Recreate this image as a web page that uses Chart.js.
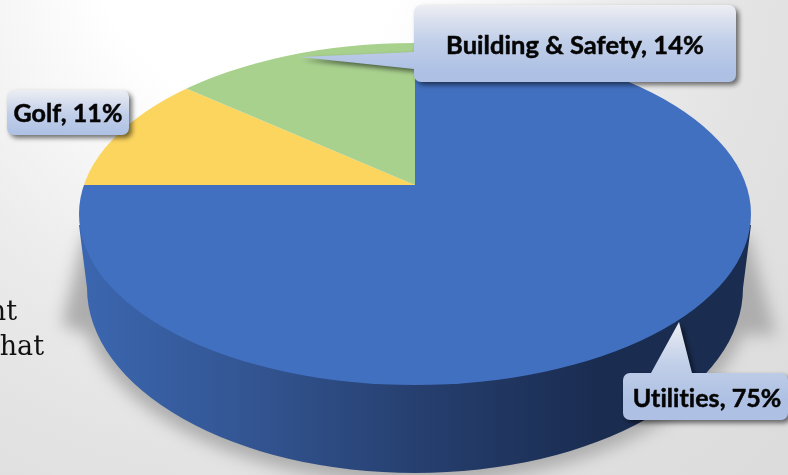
<!DOCTYPE html>
<html>
<head>
<meta charset="utf-8">
<style>html,body{margin:0;padding:0;background:#fff}canvas{display:block}#w{width:788px;height:475px}</style>
<script src="https://cdn.jsdelivr.net/npm/chart.js@4/dist/chart.umd.min.js"></script>
</head>
<body>
<div id="w"><canvas id="c" width="788" height="475"></canvas></div>
<script>
const categories = ['Utilities', 'Golf', 'Building & Safety'];
const shares = [75, 11, 14];
const sliceColors = ['#4270C0', '#FCD55F', '#A9D18E'];
const bgTextLines = ['nt', 'hat'];

const topFace = {cx: 415, cy: 214, rx: 336, ry: 171};
const baseFace = {cx: 415, cy: 288, rx: 328, ry: 185};
const apex = {x: 415, y: 185, squash: 0.51};

function ellipsePath(ctx, e) {
  ctx.beginPath();
  ctx.ellipse(e.cx, e.cy, e.rx, e.ry, 0, 0, Math.PI * 2);
}
function wallPath(ctx) {
  ctx.beginPath();
  ctx.moveTo(79, 225);
  ctx.lineTo(baseFace.cx - baseFace.rx, baseFace.cy);
  ctx.ellipse(baseFace.cx, baseFace.cy, baseFace.rx, baseFace.ry, 0, Math.PI, 0, true);
  ctx.lineTo(751, 225);
  ctx.closePath();
}
function roundedCallout(ctx, b, pointer) {
  const r = 7, {x, y, w, h} = b;
  ctx.beginPath();
  ctx.moveTo(x + r, y);
  if (pointer && pointer.side === 'top') {
    ctx.lineTo(pointer.a, y); ctx.lineTo(pointer.tx, pointer.ty); ctx.lineTo(pointer.b, y);
  }
  ctx.arcTo(x + w, y, x + w, y + h, r);
  ctx.arcTo(x + w, y + h, x, y + h, r);
  ctx.arcTo(x, y + h, x, y, r);
  if (pointer && pointer.side === 'left') {
    ctx.lineTo(x, pointer.b); ctx.lineTo(pointer.tx, pointer.ty); ctx.lineTo(x, pointer.a);
  }
  ctx.arcTo(x, y, x + w, y, r);
  ctx.closePath();
}

const scenePlugin = {
  id: 'scene',
  beforeDraw(chart) {
    const ctx = chart.ctx;
    ctx.save();
    const bg = ctx.createRadialGradient(250, -50, 0, 250, -50, 720);
    bg.addColorStop(0, '#ffffff');
    bg.addColorStop(0.21, '#ffffff');
    bg.addColorStop(0.53, '#ebebeb');
    bg.addColorStop(0.74, '#e2e2e2');
    bg.addColorStop(1, '#dcdcdc');
    ctx.fillStyle = bg;
    ctx.fillRect(0, 0, 788, 475);

    ctx.fillStyle = '#111111';
    ctx.font = '27px "DejaVu Serif"';
    ctx.textAlign = 'right';
    ctx.textBaseline = 'alphabetic';
    ctx.fillText(bgTextLines[0], 17, 320);
    ctx.fillText(bgTextLines[1], 44, 355);

    // soft cast shadow under the drum, with its two side wedges
    ctx.save();
    ctx.filter = 'blur(8px)';
    ctx.fillStyle = '#adadad';
    ctx.beginPath();
    ctx.moveTo(84, 235);
    ctx.lineTo(62, 325);
    ctx.ellipse(415, 292, 336, 192, 0, Math.PI * 0.93, Math.PI * 0.07, true);
    ctx.lineTo(776, 335);
    ctx.lineTo(748, 235);
    ctx.closePath();
    ctx.fill();
    ctx.restore();

    // side wall
    const wall = ctx.createLinearGradient(85, 0, 600, 0);
    wall.addColorStop(0, '#3B66AF');
    wall.addColorStop(0.32, '#335592');
    wall.addColorStop(0.65, '#263F6F');
    wall.addColorStop(1, '#1A2C50');
    ctx.fillStyle = wall;
    wallPath(ctx);
    ctx.fill();
    ctx.restore();
  },
  beforeDatasetsDraw(chart) {
    const ctx = chart.ctx;
    const meta = chart.getDatasetMeta(0);
    const first = meta.data[0];
    ctx.save();
    ellipsePath(ctx, topFace);
    ctx.clip();
    ctx.translate(apex.x, apex.y);
    ctx.scale(1, apex.squash);
    ctx.translate(-first.x, -first.y);
    meta.controller.draw();
    ctx.restore();
    return false;
  },
  afterDraw(chart) {
    const ctx = chart.ctx;
    const text = i => categories[i] + ', ' + shares[i] + '%';
    const callouts = [
      {i: 1, size: 25, box: {x: 7, y: 90, w: 122, h: 45}, tx: 68, ty: 114, g0: 90, g1: 135},
      {i: 0, size: 25, box: {x: 623, y: 373, w: 165, h: 47}, tx: 707, ty: 399, g0: 322, g1: 400,
        pointer: {side: 'top', a: 651, b: 692, tx: 679, ty: 322}},
      {i: 2, size: 25.5, box: {x: 414, y: 5, w: 322, h: 77}, tx: 575, ty: 46, g0: 5, g1: 72,
        pointer: {side: 'left', a: 52, b: 69, tx: 300, ty: 57}}
    ];
    callouts.forEach(c => {
      ctx.save();
      const g = ctx.createLinearGradient(0, c.g0, 0, c.g1);
      g.addColorStop(0, '#ECEEF3');
      g.addColorStop(0.55, '#C0CEE8');
      g.addColorStop(1, '#AEC1E4');
      ctx.shadowColor = 'rgba(0,0,0,0.55)';
      ctx.shadowBlur = 5;
      ctx.shadowOffsetX = 3;
      ctx.shadowOffsetY = 3;
      ctx.fillStyle = g;
      roundedCallout(ctx, c.box, c.pointer);
      ctx.fill();
      ctx.restore();
      ctx.save();
      ctx.fillStyle = '#050505';
      ctx.strokeStyle = '#050505';
      ctx.lineWidth = 0.5;
      ctx.font = 'bold ' + c.size + 'px Lato';
      ctx.letterSpacing = '0.05px';
      ctx.textAlign = 'center';
      ctx.textBaseline = 'middle';
      ctx.fillText(text(c.i), c.tx, c.ty);
      ctx.strokeText(text(c.i), c.tx, c.ty);
      ctx.restore();
    });
  }
};

new Chart(document.getElementById('c'), {
  type: 'pie',
  data: {
    labels: categories,
    datasets: [{data: shares, backgroundColor: sliceColors, borderWidth: 0}]
  },
  options: {
    responsive: false,
    devicePixelRatio: 1,
    animation: false,
    radius: 430,
    rotation: 0,
    plugins: {legend: {display: false}, tooltip: {enabled: false}, title: {display: false}}
  },
  plugins: [scenePlugin]
});
</script>
</body>
</html>
